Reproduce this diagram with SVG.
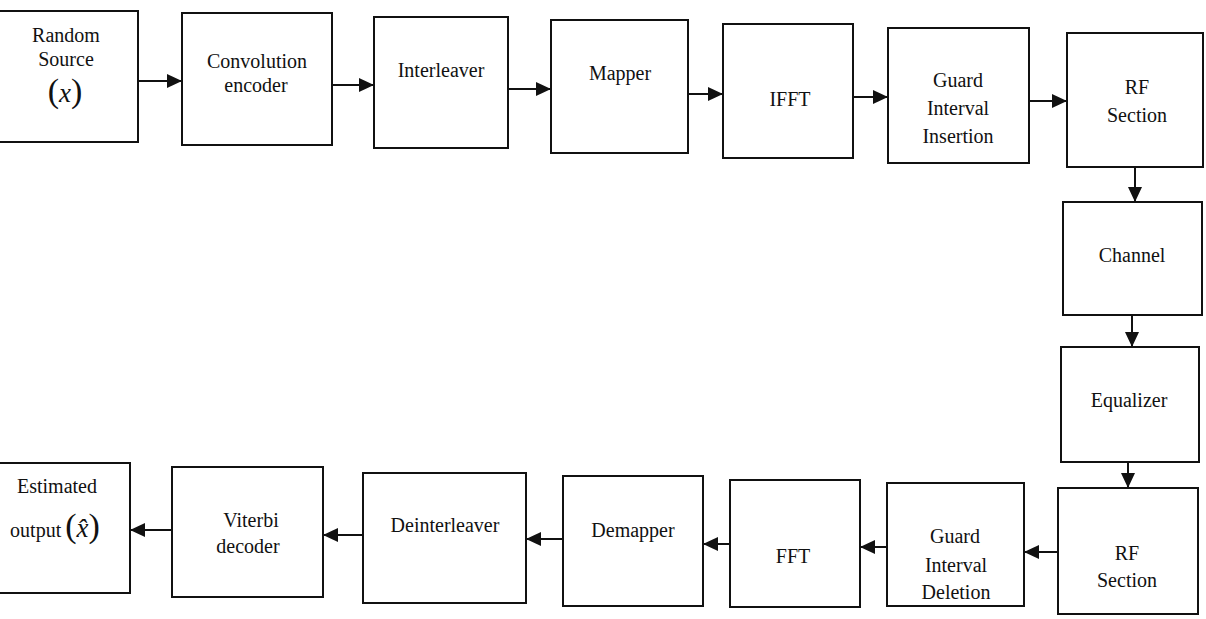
<svg xmlns="http://www.w3.org/2000/svg" width="1206" height="619" viewBox="0 0 1206 619" font-family="Liberation Serif, Times New Roman, serif">
<style>
.box{fill:#fff;stroke:#111;stroke-width:2}
.t{font-family:'Liberation Serif','Times New Roman',serif;font-size:20px;fill:#111;text-anchor:middle}
.c{stroke:#111;stroke-width:2;fill:none;marker-end:url(#ah)}
</style>
<defs>
<marker id="ah" markerUnits="userSpaceOnUse" markerWidth="16" markerHeight="14" refX="15" refY="7" orient="auto">
<path d="M0,0 L15,7 L0,14 Z" fill="#111"/>
</marker>
</defs>
<rect width="1206" height="619" fill="#fff"/>
<g id="connectors">
<line class="c" x1="138" y1="81" x2="182" y2="81"/>
<line class="c" x1="332" y1="85" x2="374" y2="85"/>
<line class="c" x1="508" y1="89" x2="551" y2="89"/>
<line class="c" x1="688" y1="94" x2="723" y2="94"/>
<line class="c" x1="853" y1="97" x2="888" y2="97"/>
<line class="c" x1="1029" y1="101" x2="1067" y2="101"/>
<line class="c" x1="1135" y1="167" x2="1135" y2="202"/>
<line class="c" x1="1132" y1="315" x2="1132" y2="347"/>
<line class="c" x1="1128" y1="462" x2="1128" y2="488"/>
<line class="c" x1="1058" y1="552" x2="1024" y2="552"/>
<line class="c" x1="887" y1="547" x2="860" y2="547"/>
<line class="c" x1="730" y1="544" x2="703" y2="544"/>
<line class="c" x1="563" y1="539" x2="526" y2="539"/>
<line class="c" x1="363" y1="535" x2="323" y2="535"/>
<line class="c" x1="172" y1="530" x2="130" y2="530"/>
</g>
<g id="source">
<rect class="box" x="-3" y="11" width="141" height="131"/>
<text class="t" x="66" y="42">Random</text>
<text class="t" x="66" y="66">Source</text>
<text class="t" x="65" y="102"><tspan font-size="34">(</tspan><tspan font-style="italic" font-size="27">x</tspan><tspan font-size="34">)</tspan></text>
</g>
<g id="conv">
<rect class="box" x="182" y="13" width="150" height="132"/>
<text class="t" x="257" y="68">Convolution</text>
<text class="t" x="256" y="92">encoder</text>
</g>
<g id="interleaver">
<rect class="box" x="374" y="17" width="134" height="131"/>
<text class="t" x="441" y="77">Interleaver</text>
</g>
<g id="mapper">
<rect class="box" x="551" y="20" width="137" height="133"/>
<text class="t" x="620" y="80">Mapper</text>
</g>
<g id="ifft">
<rect class="box" x="723" y="24" width="130" height="134"/>
<text class="t" x="790" y="106">IFFT</text>
</g>
<g id="gii">
<rect class="box" x="888" y="28" width="141" height="135"/>
<text class="t" x="958" y="87">Guard</text>
<text class="t" x="958" y="115">Interval</text>
<text class="t" x="958" y="143">Insertion</text>
</g>
<g id="rf1">
<rect class="box" x="1067" y="33" width="136" height="134"/>
<text class="t" x="1137" y="94">RF</text>
<text class="t" x="1137" y="122">Section</text>
</g>
<g id="channel">
<rect class="box" x="1063" y="202" width="139" height="113"/>
<text class="t" x="1132" y="262">Channel</text>
</g>
<g id="equalizer">
<rect class="box" x="1061" y="347" width="138" height="115"/>
<text class="t" x="1129" y="407">Equalizer</text>
</g>
<g id="rf2">
<rect class="box" x="1058" y="488" width="140" height="126"/>
<text class="t" x="1127" y="560">RF</text>
<text class="t" x="1127" y="587">Section</text>
</g>
<g id="gid">
<rect class="box" x="887" y="483" width="137" height="123"/>
<text class="t" x="955" y="543">Guard</text>
<text class="t" x="956" y="572">Interval</text>
<text class="t" x="956" y="599">Deletion</text>
</g>
<g id="fft">
<rect class="box" x="730" y="480" width="130" height="127"/>
<text class="t" x="793" y="563">FFT</text>
</g>
<g id="demapper">
<rect class="box" x="563" y="476" width="140" height="130"/>
<text class="t" x="633" y="537">Demapper</text>
</g>
<g id="deinterleaver">
<rect class="box" x="363" y="473" width="163" height="130"/>
<text class="t" x="445" y="532">Deinterleaver</text>
</g>
<g id="viterbi">
<rect class="box" x="172" y="467" width="151" height="130"/>
<text class="t" x="251" y="527">Viterbi</text>
<text class="t" x="248" y="553">decoder</text>
</g>
<g id="estimated">
<rect class="box" x="-3" y="463" width="133" height="130"/>
<text class="t" x="57" y="493">Estimated</text>
<text class="t" x="55" y="537"><tspan font-size="20">output</tspan><tspan font-size="34" dx="4">(</tspan><tspan font-style="italic" font-size="27">x̂</tspan><tspan font-size="34">)</tspan></text>
</g>
</svg>
